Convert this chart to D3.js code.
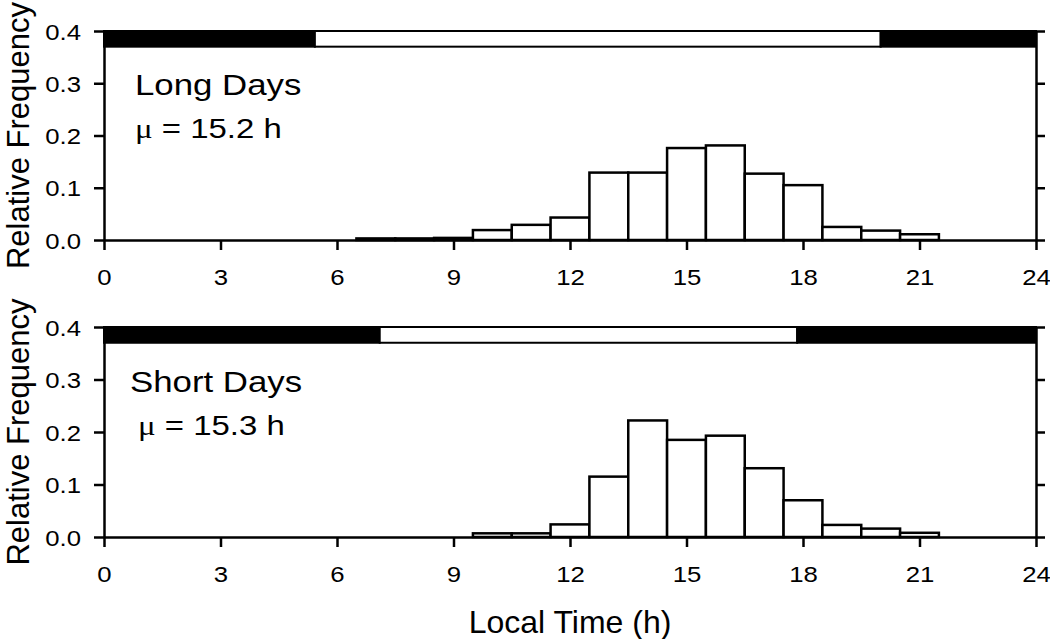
<!DOCTYPE html>
<html><head><meta charset="utf-8">
<script src="https://cdn.jsdelivr.net/npm/d3@7"></script>
<style>
body{margin:0;background:#fff}
text{font-family:"Liberation Sans",Arial,sans-serif;fill:#000}
</style></head>
<body><svg id="c" width="1050" height="639"></svg>
<script>
// ---- data ----
const xTicks = [0,3,6,9,12,15,18,21,24];
const yTicks = [0.0,0.1,0.2,0.3,0.4];
const longBins = [7,8,9,10,11,12,13,14,15,16,17,18,19,20,21];
const longFreq = [0.003,0.003,0.004,0.019,0.029,0.043,0.129,0.129,0.176,0.181,0.127,0.105,0.025,0.018,0.011];
const shortBins = [10,11,12,13,14,15,16,17,18,19,20,21];
const shortFreq = [0.007,0.007,0.024,0.115,0.222,0.185,0.193,0.131,0.070,0.023,0.016,0.008];
const longLight = [5.43, 20.0];
const shortLight = [7.1, 17.85];
const panelTitles = ["Long Days","Short Days"];
const panelMeans = ["15.2","15.3"];

const svg = d3.select("#c");
const x = d3.scaleLinear().domain([0,24]).range([104,1036]);
const SX = 1.12;

const panels = [
  {bins:longBins, freq:longFreq, light:longLight, title:panelTitles[0], mean:panelMeans[0], y0:240, y1:31, tx:135, ty:95, mx:135, my:138},
  {bins:shortBins, freq:shortFreq, light:shortLight, title:panelTitles[1], mean:panelMeans[1], y0:537, y1:327, tx:130, ty:392, mx:138, my:435}
];

panels.forEach(p=>{
  const y = d3.scaleLinear().domain([0,0.4]).range([p.y0,p.y1]);
  const g = svg.append("g");
  // bars
  g.selectAll("rect.bar").data(p.bins.map((b,i)=>({b, v:p.freq[i]}))).join("rect")
    .attr("x", d=>x(d.b-0.5)).attr("width", d=>x(d.b+0.5)-x(d.b-0.5))
    .attr("y", d=>y(d.v)).attr("height", d=>y(0)-y(d.v))
    .attr("fill","#fff").attr("stroke","#000").attr("stroke-width",2.5);
  // light/dark bar
  const segs = [[0,p.light[0],"#000"],[p.light[0],p.light[1],"#fff"],[p.light[1],24,"#000"]];
  g.selectAll("rect.ld").data(segs).join("rect")
    .attr("x",d=>x(d[0])).attr("width",d=>x(d[1])-x(d[0]))
    .attr("y",y(0.4)).attr("height",y(0.37)-y(0.4))
    .attr("fill",d=>d[2]).attr("stroke","#000").attr("stroke-width",2);
  // axes
  const ax = g.append("g").attr("transform",`translate(0,${p.y0})`)
    .call(d3.axisBottom(x).tickValues(xTicks).tickSize(10).tickPadding(19).tickSizeOuter(0));
  const ay = g.append("g").attr("transform",`translate(${x(0)},0)`)
    .call(d3.axisLeft(y).tickValues(yTicks).tickFormat(d3.format(".1f")).tickSize(10).tickPadding(13).tickSizeOuter(0));
  const ar = g.append("g").attr("transform",`translate(${x(24)},0)`)
    .call(d3.axisRight(y).tickValues(yTicks).tickFormat("").tickSize(9).tickSizeOuter(0));
  [ax,ay,ar].forEach(a=>{
    a.selectAll("path").attr("stroke","#000").attr("stroke-width",2.5);
    a.selectAll("line").attr("stroke","#000").attr("stroke-width",2.5);
    a.selectAll("text").attr("font-size",23).attr("font-family","Liberation Sans, Arial, sans-serif").attr("fill","#000");
  });
  ax.selectAll("text").attr("transform",`scale(${SX},1)`);
  ay.selectAll("text").attr("dy","0.35em").attr("transform",`scale(${SX},1)`).attr("x",-23/SX);
  // labels (horizontally stretched like the reference)
  g.append("text").attr("transform",`translate(${p.tx},${p.ty}) scale(1.2,1)`)
    .attr("font-size",29).text(p.title);
  const m = g.append("text").attr("transform",`translate(${p.mx},${p.my}) scale(1.22,1)`)
    .attr("font-size",27);
  m.append("tspan").attr("font-family","Liberation Serif, Times New Roman, serif").text("\u03bc");
  m.append("tspan").text(" = " + p.mean + " h");
  // y title
  g.append("text").attr("transform",`translate(28.5,${(p.y0+p.y1)/2}) rotate(-90)`)
    .attr("text-anchor","middle").attr("font-size",31).text("Relative Frequency");
});

svg.append("text").attr("x",(x(0)+x(24))/2).attr("y",633).attr("text-anchor","middle")
  .attr("font-size",32).text("Local Time (h)");
</script></body></html>
